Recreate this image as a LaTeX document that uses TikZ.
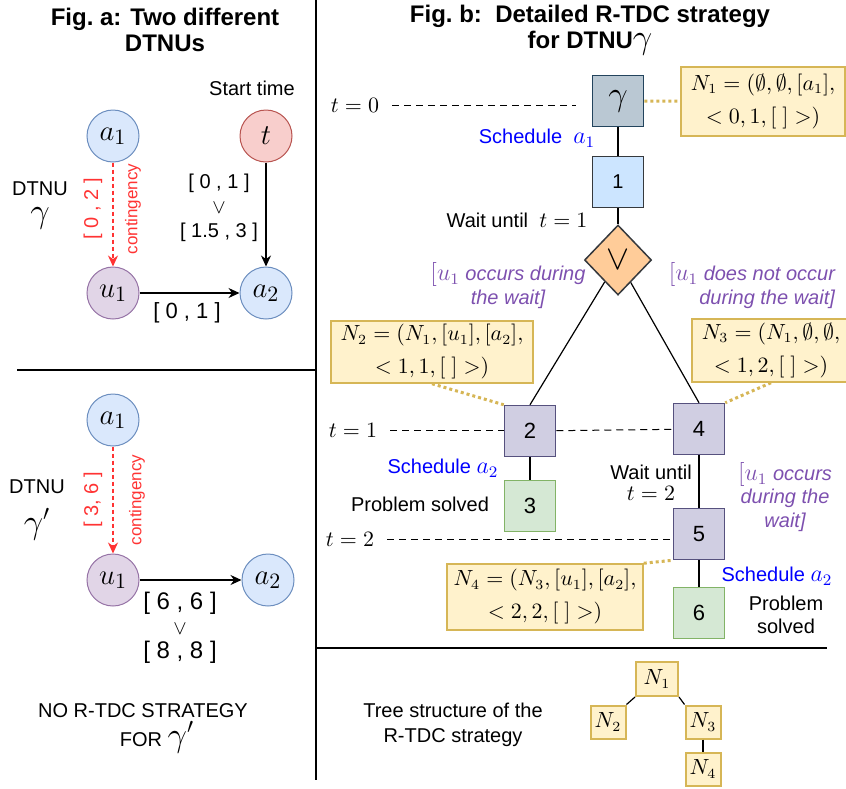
\documentclass[tikz,border=0pt]{standalone}
\usepackage{amsmath}
\usepackage{amssymb}
\usepackage{fontspec}
\setmainfont{Liberation Sans}
\usetikzlibrary{shapes.geometric,arrows.meta}

\definecolor{bluefill}{HTML}{DAE8FC}
\definecolor{bluedraw}{HTML}{6C8EBF}
\definecolor{redfill}{HTML}{F8CECC}
\definecolor{reddraw}{HTML}{B85450}
\definecolor{purplefill}{HTML}{E1D5E7}
\definecolor{purpledraw}{HTML}{9673A6}
\definecolor{yellowfill}{HTML}{FFF2CC}
\definecolor{yellowdraw}{HTML}{D6B656}
\definecolor{lilacfill}{HTML}{D0CEE2}
\definecolor{lilacdraw}{HTML}{56517E}
\definecolor{skyfill}{HTML}{CCE5FF}
\definecolor{darkdraw}{HTML}{36393D}
\definecolor{slatefill}{HTML}{BAC8D3}
\definecolor{slatedraw}{HTML}{23445D}
\definecolor{orangefill}{HTML}{FFCC99}
\definecolor{greenfill}{HTML}{D5E8D4}
\definecolor{greendraw}{HTML}{82B366}
\definecolor{contred}{HTML}{FF3333}
\definecolor{schedblue}{HTML}{0000FF}
\definecolor{branchpurple}{HTML}{7D50AF}

\newcommand{\mathbig}{\fontsize{12}{14}\selectfont}

\begin{document}
\begin{tikzpicture}[x=0.5pt,y=-0.5pt,
    every node/.style={font=\fontsize{10}{12}\selectfont},
    event/.style={circle,draw,minimum size=26pt,inner sep=0pt,line width=0.5pt,font=\fontsize{15}{18}\selectfont},
    ctrl/.style={event,fill=bluefill,draw=bluedraw},
    origin/.style={event,fill=redfill,draw=reddraw},
    obs/.style={event,fill=purplefill,draw=purpledraw},
    state/.style={rectangle,draw,minimum size=25.5pt,inner sep=0pt,line width=0.75pt,font=\fontsize{11}{13}\selectfont},
    lilac/.style={state,fill=lilacfill,draw=lilacdraw},
    solved/.style={state,fill=greenfill,draw=greendraw},
    branch/.style={diamond,draw=darkdraw,fill=orangefill,minimum width=33.5pt,minimum height=35pt,inner sep=0pt,line width=0.75pt,font=\fontsize{16}{18}\selectfont},
    info/.style={rectangle,draw=yellowdraw,fill=yellowfill,line width=0.75pt,align=center,inner sep=0pt,font=\fontsize{10.5}{16.5}\selectfont},
    leaf/.style={rectangle,draw=yellowdraw,fill=yellowfill,line width=1pt,inner sep=0pt,minimum width=17.5pt,minimum height=16.5pt,font=\fontsize{10.5}{12}\selectfont},
    req/.style={line width=0.6pt,-{Stealth[length=5.5pt,width=5pt]}},
    contingent/.style={contred,line width=0.6pt,dash pattern=on 2pt off 1.5pt,-{Stealth[length=5.5pt,width=5pt]}},
    redlabel/.style={text=contred,rotate=90},
    timeline/.style={line width=0.5pt,dash pattern=on 3.5pt off 2.5pt},
    note/.style={draw=yellowdraw,line width=1.5pt,dash pattern=on 1.5pt off 1.5pt},
    divider/.style={line width=1pt},
    sched/.style={text=schedblue},
    cond/.style={text=branchpurple,font=\itshape\fontsize{10}{12}\selectfont}]

    \useasboundingbox (0,0) rectangle (846,788);
    \clip (0,0) rectangle (846,788);

    % titles and frame
    \node[align=center,font=\bfseries\fontsize{12}{13}\selectfont] (titlea) at (165,30) {Fig.\ a: Two different\\DTNUs};
    \node[align=center,font=\bfseries\fontsize{12}{13}\selectfont] (titleb) at (590,30) {Fig.\ b:\ \ Detailed R-TDC strategy\\for DTNU{\fontsize{16}{13}\selectfont$\gamma$}};
    \draw[divider] (316,0) -- (316,780);
    \draw[divider] (17,370) -- (316,370);
    \draw[divider] (316,648) -- (827,648);

    % Fig. a, DTNU gamma
    \node (starttime) at (252,88) {Start time};
    \node[ctrl] (a1) at (113,136) {$a_1$};
    \node[origin] (t) at (266,136) {$t$};
    \node[obs] (u1) at (113,293) {$u_1$};
    \node[ctrl] (a2) at (266,293) {$a_2$};
    \draw[contingent] (a1) -- (u1);
    \draw[req] (t) -- (a2);
    \draw[req] (u1) -- (a2);
    \node[redlabel] (lbla) at (93,209) {[ 0 , 2 ]};
    \node[redlabel,font=\fontsize{8.5}{10}\selectfont] (conta) at (133,209) {contingency};
    \node[align=center,font=\fontsize{10}{12.25}\selectfont] (lblt) at (219,208) {[ 0 , 1 ]\\$\vee$\\{}[ 1.5 , 3 ]};
    \node[font=\fontsize{11}{13}\selectfont] (lblu) at (187,313) {[ 0 , 1 ]};
    \node[inner sep=0.5pt] (dtnua) at (40,189) {DTNU};
    \node[inner sep=0.5pt,font=\fontsize{16}{18}\selectfont] (gama) at (40,218) {$\gamma$};

    % Fig. a, DTNU gamma'
    \node[ctrl] (b1) at (113,420) {$a_1$};
    \node[obs] (v1) at (113,580) {$u_1$};
    \node[ctrl] (b2) at (268,580) {$a_2$};
    \draw[contingent] (b1) -- (v1);
    \draw[req] (v1) -- (b2);
    \node[redlabel] (lblb) at (93,500) {[ 3, 6 ]};
    \node[redlabel,font=\fontsize{8.5}{10}\selectfont] (contb) at (137,500) {contingency};
    \node[align=center,font=\fontsize{12}{12.25}\selectfont] (lblv) at (180,628) {[ 6 , 6 ]\\{\fontsize{10}{12}\selectfont$\vee$}\\{}[ 8 , 8 ]};
    \node[inner sep=0.5pt] (dtnub) at (37,487) {DTNU};
    \node[inner sep=0.5pt,font=\fontsize{16}{18}\selectfont] (gamb) at (37,524) {$\gamma'$};
    \node[inner sep=0pt] (nostrat) at (143,711) {NO R-TDC STRATEGY};
    \node[inner sep=0pt] (forgam) at (157,737) {FOR {\fontsize{16}{18}\selectfont$\gamma'$}};

    % Fig. b, strategy tree
    \node[state,fill=slatefill,draw=slatedraw,font=\fontsize{16}{18}\selectfont] (s0) at (618,101) {$\gamma$};
    \node[state,fill=skyfill,draw=darkdraw,font=\fontsize{10}{12}\selectfont] (s1) at (618,182) {1};
    \node[branch] (or) at (618,260) {$\vee$};
    \node[lilac] (s2) at (530,431) {2};
    \node[solved] (s3) at (530,506) {3};
    \node[lilac] (s4) at (699,429) {4};
    \node[lilac] (s5) at (699,534) {5};
    \node[solved] (s6) at (699,613) {6};
    \draw[line width=0.6pt] (s0) -- (s1);
    \draw[line width=0.6pt] (s1) -- (or);
    \draw[line width=0.6pt] (or) -- (s2.north);
    \draw[line width=0.6pt] (or) -- (s4.north);
    \draw[line width=0.6pt] (s2) -- (s3);
    \draw[line width=0.6pt] (s4) -- (s5);
    \draw[line width=0.6pt] (s5) -- (s6);

    % time levels
    \node[font=\fontsize{11}{13}\selectfont] (t0) at (355,105) {$t=0$};
    \node[font=\fontsize{11}{13}\selectfont] (t1) at (353,430) {$t=1$};
    \node[font=\fontsize{11}{13}\selectfont] (t2) at (350,539) {$t=2$};
    \draw[timeline,shorten <=3pt,shorten >=8pt] (t0) -- (t0 -| s0.west);
    \draw[timeline,shorten <=3pt] (t1) -- (t1 -| s2.west);
    \draw[timeline] (s2) -- (s4);
    \draw[timeline,shorten <=3pt] (t2) -- (t2 -| s5.west);

    % actions and conditions
    \node[sched] (sch1) at (537,138) {Schedule\ \ {\mathbig$a_1$}};
    \node (wait1) at (517,220) {Wait until\ \ {\fontsize{11}{13}\selectfont$t=1$}};
    \node[cond,align=center] (occ) at (508,286) {{\mathbig$[u_1$} occurs during\\the wait]};
    \node[cond,align=right,anchor=east] (nocc) at (842,286) {{\mathbig$[u_1$} does not occur\\during the wait]};
    \node[sched] (sch2) at (443,468) {Schedule {\mathbig$a_2$}};
    \node (solved3) at (420,504) {Problem solved};
    \node[align=center,font=\fontsize{10}{10.5}\selectfont] (wait2) at (651,483) {Wait until\\{\fontsize{11}{13}\selectfont$t=2$}};
    \node[cond,align=center,font=\itshape\fontsize{10}{11.75}\selectfont] (occ2) at (785,497) {{\mathbig$[u_1$} occurs\\during the\\wait]};
    \node[sched] (sch3) at (777,576) {Schedule {\mathbig$a_2$}};
    \node[align=center,font=\fontsize{10}{11.5}\selectfont] (solved6) at (786,615) {Problem\\solved};

    % node contents
    \node[info,minimum width=82pt,minimum height=34.5pt] (N1) at (763,101.5) {$N_1=(\emptyset,\emptyset,[a_1],$\\$<0,1,[\;]>)$};
    \node[info,minimum width=101pt,minimum height=31pt] (N2) at (432,352) {$N_2=(N_1,[u_1],[a_2],$\\$<1,1,[\;]>)$};
    \node[info,minimum width=79pt,minimum height=31.5pt] (N3) at (771,350.5) {$N_3=(N_1,\emptyset,\emptyset,$\\$<1,2,[\;]>)$};
    \node[info,minimum width=98pt,minimum height=33pt] (N4) at (545,597) {$N_4=(N_3,[u_1],[a_2],$\\$<2,2,[\;]>)$};
    \draw[note] (s0) -- (N1);
    \draw[note] (N2.south) -- (s2.north west);
    \draw[note] (N3.south) -- (s4.north east);
    \draw[note] (N4.north east) -- (s5.south west);

    % tree structure
    \node[align=center,font=\fontsize{10}{12.5}\selectfont] (treelbl) at (453,725) {Tree structure of the\\R-TDC strategy};
    \node[leaf,minimum width=21pt,minimum height=17pt] (T1) at (657,679) {$N_1$};
    \node[leaf] (T2) at (608,722) {$N_2$};
    \node[leaf] (T3) at (703,722) {$N_3$};
    \node[leaf] (T4) at (703,769) {$N_4$};
    \draw[line width=0.6pt] (T1.south west) -- (T2.north east);
    \draw[line width=0.6pt] (T1.south east) -- (T3.north west);
    \draw[line width=0.6pt] (T3) -- (T4);
\end{tikzpicture}
\end{document}
